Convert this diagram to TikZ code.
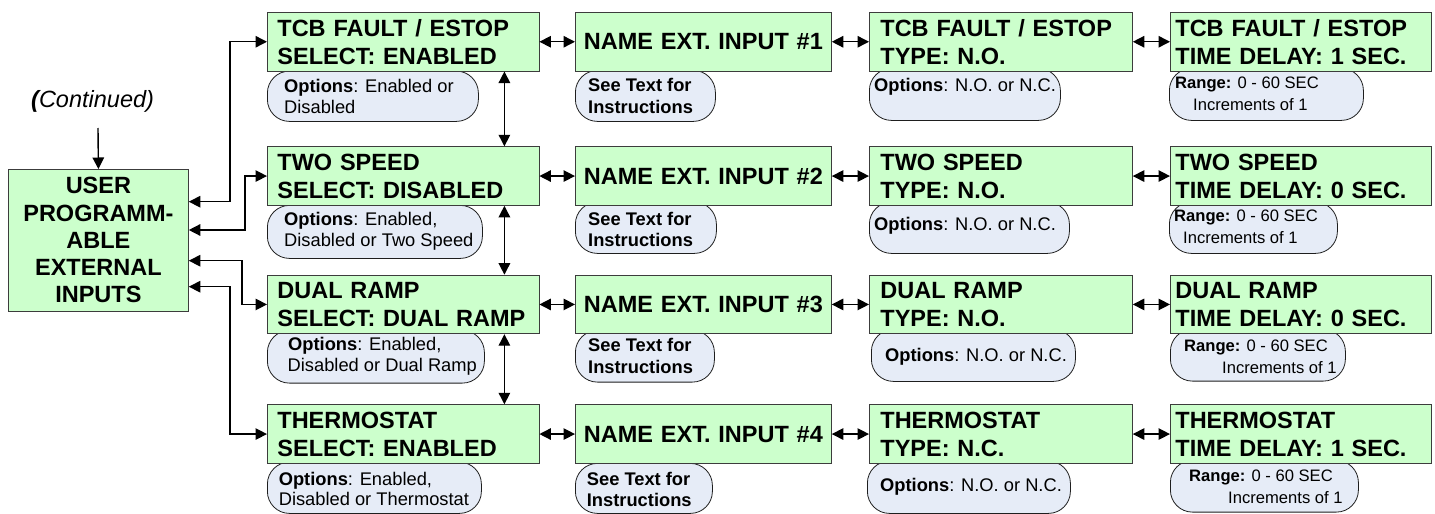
\documentclass[tikz,border=0pt]{standalone}
\usepackage{fontspec}
\setmainfont{Liberation Sans}
\usetikzlibrary{arrows.meta,calc}
\definecolor{boxgreen}{RGB}{204,255,204}
\definecolor{boxline}{RGB}{60,60,60}
\definecolor{callfill}{RGB}{230,236,247}
\definecolor{callline}{RGB}{30,30,30}
\newcommand{\bxfont}{\fontsize{23.5}{28}\selectfont\bfseries}
\newcommand{\usfont}{\fontsize{23.5}{27.2}\selectfont\bfseries}
\newcommand{\cofont}{\fontsize{18.3}{21}\selectfont}
\newcommand{\rgfont}{\fontsize{16.6}{20}\selectfont}
\begin{document}
\begin{tikzpicture}[x=1pt,y=-1pt,
  box/.style={draw=boxline, fill=boxgreen, line width=0.8pt, anchor=north west,
    minimum height=58.7pt, font=\bxfont, inner ysep=0pt},
  bxa/.style={box, align=left, inner xsep=10pt, text width=251.6pt},
  bxb/.style={box, align=center, inner xsep=4pt, text width=248pt},
  bxc/.style={box, align=left, inner xsep=11pt, text width=241pt},
  bxd/.style={box, align=left, inner xsep=5pt, text width=250.7pt},
  callout/.style={draw=callline, fill=callfill, line width=0.8pt, rounded corners=22pt,
    anchor=north west, inner sep=0pt},
  ct/.style={anchor=base west, inner sep=0pt, font=\cofont},
  rt/.style={anchor=base west, inner sep=0pt, font=\rgfont},
  conn/.style={line width=1.4pt, draw=black},
  dbl/.style={conn, {Triangle[length=11.5pt,width=11.5pt]}-{Triangle[length=11.5pt,width=11.5pt]}},
  sgl/.style={conn, -{Triangle[length=11.5pt,width=11.5pt]}}
]
\useasboundingbox (0,0) rectangle (1435,514);

% ---- callouts (drawn first, boxes overlap their tops)
\node[callout, minimum width=211pt, minimum height=50.3pt] (c11) at (267,70.7) {};
\node[callout, minimum width=215pt, minimum height=53pt] (c21) at (267,205) {};
\node[callout, minimum width=217pt, minimum height=52.7pt] (c31) at (267,330) {};
\node[callout, minimum width=214pt, minimum height=51.3pt] (c41) at (267,461.7) {};
\node[callout, minimum width=140pt, minimum height=51pt] (c12) at (575,70) {};
\node[callout, minimum width=141pt, minimum height=51.3pt] (c22) at (575,201.7) {};
\node[callout, minimum width=139pt, minimum height=51.7pt] (c32) at (575,330) {};
\node[callout, minimum width=137pt, minimum height=50pt] (c42) at (575,463) {};
\node[callout, minimum width=191pt, minimum height=52pt] (c13) at (869,68) {};
\node[callout, minimum width=200pt, minimum height=51.3pt] (c23) at (869,201.7) {};
\node[callout, minimum width=204pt, minimum height=52pt] (c33) at (871,329) {};
\node[callout, minimum width=203pt, minimum height=52.3pt] (c43) at (867,460.7) {};
\node[callout, minimum width=194pt, minimum height=52pt] (c14) at (1169,68) {};
\node[callout, minimum width=168pt, minimum height=51.3pt] (c24) at (1169,201.7) {};
\node[callout, minimum width=175pt, minimum height=51.7pt] (c34) at (1170,329) {};
\node[callout, minimum width=188pt, minimum height=51.7pt] (c44) at (1170,460) {};

% ---- callout texts
\node[ct] (o11a) at (284,92.7) {\textbf{Options}: Enabled or};
\node[ct] (o11b) at (284,113) {Disabled};
\node[ct] (o21a) at (284,225) {\textbf{Options}: Enabled,};
\node[ct] (o21b) at (284,246) {Disabled or Two Speed};
\node[ct] (o31a) at (288,350) {\textbf{Options}: Enabled,};
\node[ct] (o31b) at (287.5,371.7) {Disabled or Dual Ramp};
\node[ct] (o41a) at (278.6,485) {\textbf{Options}: Enabled,};
\node[ct] (o41b) at (278.6,505) {Disabled or Thermostat};
\node[ct,font=\cofont\bfseries] (o12a) at (588,91.7) {See Text for};
\node[ct,font=\cofont\bfseries] (o12b) at (588,113) {Instructions};
\node[ct,font=\cofont\bfseries] (o22a) at (588,225) {See Text for};
\node[ct,font=\cofont\bfseries] (o22b) at (588,246.7) {Instructions};
\node[ct,font=\cofont\bfseries] (o32a) at (588,351.7) {See Text for};
\node[ct,font=\cofont\bfseries] (o32b) at (588,373) {Instructions};
\node[ct,font=\cofont\bfseries] (o42a) at (586.7,485) {See Text for};
\node[ct,font=\cofont\bfseries] (o42b) at (586.7,506.7) {Instructions};
\node[ct] (o13) at (874,91.7) {\textbf{Options}: N.O. or N.C.};
\node[ct] (o23) at (874,230) {\textbf{Options}: N.O. or N.C.};
\node[ct] (o33) at (885,361.7) {\textbf{Options}: N.O. or N.C.};
\node[ct] (o43) at (880,491.7) {\textbf{Options}: N.O. or N.C.};
\node[rt] (r14a) at (1175,88) {\textbf{Range:} 0 - 60 SEC};
\node[rt] (r14b) at (1193,110) {Increments of 1};
\node[rt] (r24a) at (1174,221.7) {\textbf{Range:} 0 - 60 SEC};
\node[rt] (r24b) at (1183,243.3) {Increments of 1};
\node[rt] (r34a) at (1184,351.7) {\textbf{Range:} 0 - 60 SEC};
\node[rt] (r34b) at (1222,373.3) {Increments of 1};
\node[rt] (r44a) at (1189,481.7) {\textbf{Range:} 0 - 60 SEC};
\node[rt] (r44b) at (1228,503.3) {Increments of 1};

% ---- main boxes
\node[bxa] (b1) at (267,12) {TCB FAULT / ESTOP\\SELECT: ENABLED};
\node[bxa] (b2) at (267,146.3) {TWO SPEED\\SELECT: DISABLED};
\node[bxa] (b3) at (267,274.7) {DUAL RAMP\\SELECT: DUAL RAMP};
\node[bxa] (b4) at (267,404.3) {THERMOSTAT\\SELECT: ENABLED};
\node[bxb] (n1) at (575,12) {NAME EXT. INPUT \#1};
\node[bxb] (n2) at (575,146.3) {NAME EXT. INPUT \#2};
\node[bxb] (n3) at (575,274.7) {NAME EXT. INPUT \#3};
\node[bxb] (n4) at (575,404.3) {NAME EXT. INPUT \#4};
\node[bxc] (t1) at (869,12) {TCB FAULT / ESTOP\\TYPE: N.O.};
\node[bxc] (t2) at (869,146.3) {TWO SPEED\\TYPE: N.O.};
\node[bxc] (t3) at (869,274.7) {DUAL RAMP\\TYPE: N.O.};
\node[bxc] (t4) at (869,404.3) {THERMOSTAT\\TYPE: N.C.};
\node[bxd] (d1) at (1170,12) {TCB FAULT / ESTOP\\TIME DELAY: 1 SEC.};
\node[bxd] (d2) at (1170,146.3) {TWO SPEED\\TIME DELAY: 0 SEC.};
\node[bxd] (d3) at (1170,274.7) {DUAL RAMP\\TIME DELAY: 0 SEC.};
\node[bxd] (d4) at (1170,404.3) {THERMOSTAT\\TIME DELAY: 1 SEC.};

\node[draw=boxline, fill=boxgreen, line width=0.8pt, anchor=north west,
  minimum width=180pt, minimum height=141.7pt, inner sep=0pt,
  align=center, font=\usfont] (user) at (8,169)
  {USER\\PROGRAMM-\\ABLE\\EXTERNAL\\INPUTS};

\node[anchor=base west, inner sep=0pt, font=\fontsize{23.5}{28}\selectfont\itshape]
  (cont) at (31,107) {{\bfseries (}Continued)};

% ---- connectors
\coordinate (ctop) at (98,128);
\draw[sgl] (ctop) -- (user.north);

\coordinate (u1) at ($(user.north east)+(0,32.7)$);
\coordinate (u2) at ($(user.north east)+(0,61)$);
\coordinate (u3) at ($(user.north east)+(0,91.7)$);
\coordinate (u4) at ($(user.north east)+(0,117.7)$);
\draw[dbl] (u1) -- ++(41,0) |- (b1.west);
\draw[dbl] (u2) -- ++(56,0) |- (b2.west);
\draw[dbl] (u3) -- ++(53,0) |- (b3.west);
\draw[dbl] (u4) -- ++(41,0) |- (b4.west);

\foreach \r in {1,2,3,4}{
  \draw[dbl] (b\r.east) -- (n\r.west);
  \draw[dbl] (n\r.east) -- (t\r.west);
  \draw[dbl] (t\r.east) -- (d\r.west);
}
\draw[dbl] ([xshift=-35pt]b1.south east) -- ([xshift=-35pt]b2.north east);
\draw[dbl] ([xshift=-35pt]b2.south east) -- ([xshift=-35pt]b3.north east);
\draw[dbl] ([xshift=-35pt]b3.south east) -- ([xshift=-35pt]b4.north east);
\end{tikzpicture}
\end{document}
